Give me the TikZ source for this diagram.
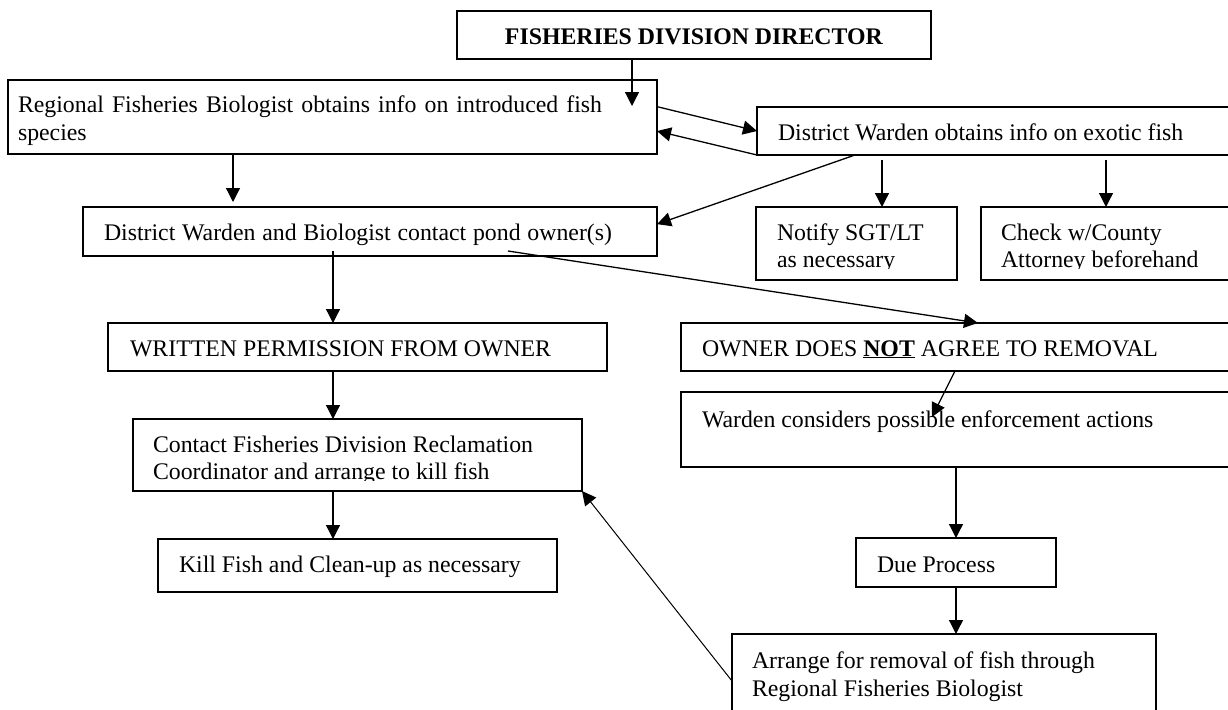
\documentclass[tikz,border=0pt]{standalone}
\usepackage{fontspec}
\setmainfont{Liberation Serif}
\usetikzlibrary{arrows.meta,calc}
\begin{document}
\begin{tikzpicture}[x=1pt,y=-1pt,
 box/.style={draw, line width=1.3pt, inner sep=0pt, outer sep=0pt, anchor=north west},
 txt/.style={inner sep=0pt, outer sep=0pt, anchor=base west, font=\fontsize{23.8}{28}\selectfont},
 arr/.style={line width=1.3pt, -{Triangle[length=14pt,width=14pt]}},
 thinarr/.style={line width=1pt, -{Triangle[length=14pt,width=14pt]}}]
\fill[white] (0,0) rectangle (1228,709);
\clip (0,0) rectangle (1228,709);
% boxes
\node[box, minimum width=474pt, minimum height=48pt] (dir) at (457,11) {};
\node[box, minimum width=649pt, minimum height=74pt] (reg) at (8,80) {};
\node[box, minimum width=478pt, minimum height=48pt] (dw) at (757,107) {};
\node[box, minimum width=574pt, minimum height=49pt] (dwb) at (83,207) {};
\node[box, minimum width=201pt, minimum height=73pt] (notify) at (756,207) {};
\node[box, minimum width=254pt, minimum height=73pt] (check) at (981,207) {};
\node[box, minimum width=499pt, minimum height=48pt] (written) at (108,323) {};
\node[box, minimum width=554pt, minimum height=48pt] (owner) at (681,323) {};
\node[box, minimum width=449pt, minimum height=72pt] (contact) at (133,419) {};
\node[box, minimum width=554pt, minimum height=75pt] (warden) at (681,392) {};
\node[box, minimum width=399pt, minimum height=53pt] (kill) at (158,539) {};
\node[box, minimum width=200pt, minimum height=49pt] (due) at (856,538) {};
\node[box, minimum width=424pt, minimum height=81pt] (arrange) at (732,634) {};
% texts
\node[txt, anchor=base] (tdir) at (694,45) {\textbf{FISHERIES DIVISION DIRECTOR}};
\node[txt] (treg1) at (18,112) {\makebox[584pt][s]{Regional Fisheries Biologist obtains info on introduced fish}};
\node[txt] (treg2) at (18,140) {species};
\node[txt] (tdw) at (778,140) {District Warden obtains info on exotic fish};
\node[txt] (tdwb) at (104,240) {\makebox[508pt][s]{District Warden and Biologist contact pond owner(s)}};
\begin{scope}
\clip (notify.north west) rectangle (notify.east |- 0,268);
\node[txt] (tnot1) at (777,240) {Notify SGT/LT};
\node[txt] (tnot2) at (777,267) {as necessary};
\end{scope}
\begin{scope}
\clip (check.north west) rectangle (check.east |- 0,268);
\node[txt] (tchk1) at (1001,240) {Check w/County};
\node[txt] (tchk2) at (1001,267) {Attorney beforehand};
\end{scope}
\node[txt] (twr) at (130,356) {WRITTEN PERMISSION FROM OWNER};
\node[txt] (town) at (702,356) {OWNER DOES \underline{\textbf{NOT}} AGREE TO REMOVAL};
\begin{scope}
\clip (contact.north west) rectangle (contact.east |- 0,480);
\node[txt] (tcon1) at (153,452) {Contact Fisheries Division Reclamation};
\node[txt] (tcon2) at (153,479) {Coordinator and arrange to kill fish};
\end{scope}
\node[txt] (twar) at (702,427) {Warden considers possible enforcement actions};
\node[txt] (tkill) at (179,572) {Kill Fish and Clean-up as necessary};
\node[txt] (tdue) at (877,572) {Due Process};
\node[txt] (tarr1) at (752,668) {Arrange for removal of fish through};
\node[txt] (tarr2) at (752,696) {Regional Fisheries Biologist};
% free ends
\coordinate (e1) at (632,106);
\coordinate (e4) at (233,202);
\coordinate (s6) at (882,160);
\coordinate (s7) at (1106,160);
\coordinate (s8) at (333,251);
\coordinate (s9) at (508,251);
\coordinate (e11) at (932,417);
% connectors
\draw[arr] (dir.south -| e1) -- (e1);
\draw[arr] ($(reg.north east)!0.36!(reg.south east)$) -- (dw.west);
\draw[arr] (dw.south west) -- ($(reg.north east)!0.69!(reg.south east)$);
\draw[arr] (reg.south -| e4) -- (e4);
\draw[arr] (dw.south -| 855,0) -- ($(dwb.north east)!0.35!(dwb.south east)$);
\draw[arr] (s6) -- (notify.north -| s6);
\draw[arr] (s7) -- (check.north -| s7);
\draw[arr] (s8) -- (written.north -| s8);
\draw[arr] (s9) -- (owner.north -| 978,0);
\draw[arr] (written.south -| s8) -- (contact.north -| s8);
\draw[arr] (owner.south -| 955,0) -- (e11);
\draw[arr] (contact.south -| s8) -- (kill.north -| s8);
\draw[arr] (warden.south -| due.north) -- (due.north);
\draw[arr] (due.south) -- (arrange.north -| due.south);
\draw[thinarr] (arrange.west |- 0,681) -- (contact.south east);
\end{tikzpicture}
\end{document}
